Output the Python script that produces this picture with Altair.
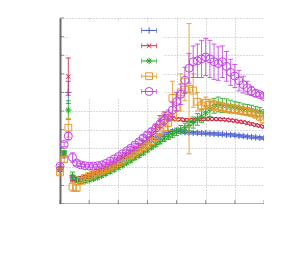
import altair as alt
import pandas as pd

# ---------------- data ----------------
x_vals = list(range(50))
x_ticks = [0, 7, 14, 21, 28, 35, 42, 49]
y_ticks = [0, 1, 2, 3, 4, 5, 6, 7, 8, 9, 10]

series_names = ["A", "B", "C", "D", "E"]

blue = [1.85, 2.6, 6.0, 1.4, 1.3, 1.35, 1.4, 1.5, 1.58, 1.67,
        1.77, 1.87, 1.98, 2.1, 2.22, 2.36, 2.5, 2.65, 2.8, 2.97,
        3.13, 3.3, 3.45, 3.55, 3.65, 3.75, 3.85, 3.9, 3.93, 3.9,
        3.86, 3.84, 3.83, 3.82, 3.81, 3.8, 3.78, 3.77, 3.76, 3.75,
        3.73, 3.72, 3.7, 3.67, 3.65, 3.62, 3.6, 3.58, 3.56, 3.54]
blue_err = [0.1, 0.12, 0.6, 0.12, 0.1, 0.08, 0.07, 0.07, 0.07, 0.07,
            0.07, 0.07, 0.07, 0.07, 0.07, 0.07, 0.07, 0.08, 0.08, 0.08,
            0.08, 0.08, 0.1, 0.1, 0.1, 0.1, 0.1, 0.1, 0.1, 0.08,
            0.08, 0.08, 0.07, 0.07, 0.07, 0.07, 0.07, 0.07, 0.07, 0.07,
            0.07, 0.07, 0.07, 0.07, 0.07, 0.07, 0.07, 0.07, 0.07, 0.07]

red = [1.9, 2.7, 6.85, 1.35, 1.34, 1.4, 1.45, 1.55, 1.65, 1.75,
       1.85, 1.95, 2.08, 2.2, 2.35, 2.5, 2.65, 2.8, 2.97, 3.15,
       3.32, 3.5, 3.75, 4.1, 4.5, 4.75, 4.65, 4.6, 4.55, 4.55,
       4.52, 4.5, 4.52, 4.55, 4.55, 4.56, 4.57, 4.57, 4.56, 4.55,
       4.53, 4.5, 4.47, 4.43, 4.4, 4.35, 4.3, 4.25, 4.2, 4.15]
red_err = [0.1, 0.12, 1.0, 0.15, 0.1, 0.08, 0.07, 0.07, 0.07, 0.07,
           0.07, 0.07, 0.07, 0.07, 0.07, 0.07, 0.08, 0.08, 0.08, 0.08,
           0.1, 0.1, 0.12, 0.2, 0.25, 0.2, 0.15, 0.1, 0.08, 0.08,
           0.08, 0.08, 0.07, 0.07, 0.07, 0.07, 0.07, 0.07, 0.07, 0.07,
           0.07, 0.07, 0.07, 0.07, 0.07, 0.07, 0.07, 0.07, 0.07, 0.07]

green = [1.85, 2.75, 5.05, 1.52, 1.3, 1.2, 1.22, 1.28, 1.35, 1.43,
         1.52, 1.62, 1.73, 1.84, 1.96, 2.08, 2.2, 2.33, 2.47, 2.6,
         2.75, 2.9, 3.05, 3.2, 3.35, 3.5, 3.62, 3.75, 3.88, 4.0,
         4.1, 4.22, 4.38, 4.55, 4.72, 4.9, 5.1, 5.28, 5.35, 5.3,
         5.3, 5.25, 5.2, 5.15, 5.1, 5.08, 5.05, 5.0, 4.95, 4.85]
green_err = [0.1, 0.12, 0.5, 0.2, 0.15, 0.1, 0.08, 0.08, 0.08, 0.08,
             0.08, 0.08, 0.08, 0.08, 0.08, 0.08, 0.08, 0.08, 0.09, 0.09,
             0.1, 0.1, 0.1, 0.12, 0.12, 0.15, 0.15, 0.18, 0.2, 0.22,
             0.25, 0.28, 0.3, 0.32, 0.35, 0.38, 0.4, 0.4, 0.4, 0.38,
             0.35, 0.33, 0.3, 0.3, 0.28, 0.27, 0.26, 0.25, 0.24, 0.22]

orange = [1.7, 2.4, 4.1, 0.93, 0.86, 1.25, 1.4, 1.5, 1.6, 1.7,
          1.78, 1.87, 1.97, 2.08, 2.2, 2.33, 2.47, 2.6, 2.75, 2.9,
          3.05, 3.2, 3.38, 3.6, 3.9, 4.1, 4.35, 5.7, 5.2, 6.0,
          6.15, 6.2, 6.1, 5.5, 5.3, 5.45, 5.35, 5.3, 5.25, 5.2,
          5.15, 5.1, 5.1, 5.05, 5.0, 4.95, 4.9, 4.82, 4.7, 4.55]
orange_err = [0.1, 0.15, 0.5, 0.25, 0.15, 0.1, 0.08, 0.08, 0.08, 0.08,
              0.08, 0.08, 0.08, 0.08, 0.08, 0.08, 0.08, 0.09, 0.09, 0.1,
              0.1, 0.12, 0.15, 0.2, 0.25, 0.3, 0.4, 0.9, 0.7, 1.0,
              0.6, 3.5, 0.9, 0.5, 0.3, 0.3, 0.28, 0.27, 0.26, 0.25,
              0.25, 0.24, 0.23, 0.22, 0.22, 0.21, 0.2, 0.2, 0.2, 0.2]

purple = [2.03, 3.2, 3.65, 2.5, 2.2, 2.1, 2.06, 2.04, 2.04, 2.06,
          2.1, 2.18, 2.3, 2.42, 2.55, 2.7, 2.85, 3.0, 3.17, 3.35,
          3.55, 3.72, 3.9, 4.08, 4.3, 4.5, 4.75, 5.05, 5.5, 5.9,
          6.65, 7.3, 7.65, 7.7, 7.8, 7.9, 7.8, 7.65, 7.55, 7.65,
          7.4, 7.08, 6.88, 6.63, 6.42, 6.25, 6.08, 5.95, 5.88, 5.78]
purple_err = [0.08, 0.12, 0.2, 0.25, 0.12, 0.08, 0.06, 0.06, 0.06, 0.06,
              0.06, 0.06, 0.07, 0.07, 0.08, 0.08, 0.09, 0.1, 0.1, 0.11,
              0.12, 0.13, 0.15, 0.17, 0.2, 0.25, 0.3, 0.4, 0.5, 0.55,
              0.7, 0.8, 0.85, 0.9, 1.0, 1.0, 1.0, 0.95, 0.9, 0.85,
              0.8, 0.7, 0.62, 0.55, 0.45, 0.35, 0.25, 0.18, 0.12, 0.1]

values = [blue, red, green, orange, purple]
errors = [blue_err, red_err, green_err, orange_err, purple_err]

# ---------------- styles ----------------
colors = ["#4a62d4", "#cc2a48", "#2aa82a", "#e39a2c", "#c443e6"]
shapes = [
    "M-1,0L1,0M0,-1L0,1",
    "M-0.8,-0.8L0.8,0.8M-0.8,0.8L0.8,-0.8",
    "M-1,0L1,0M0,-1L0,1M-0.7,-0.7L0.7,0.7M-0.7,0.7L0.7,-0.7",
    "square",
    "circle",
]
sizes = [42, 30, 42, 46, 64]

xscale = alt.Scale(domain=[0, 49], nice=False, zero=False)
yscale = alt.Scale(domain=[0, 10], nice=False, zero=False)
xaxis = alt.Axis(title=None, values=x_ticks, grid=True, gridDash=[1, 2],
                 gridColor="#b4b4b4", gridWidth=1, ticks=False, labels=False,
                 domainColor="#6a6a6a", domainWidth=2)
yaxis = alt.Axis(title=None, values=y_ticks, grid=True, gridDash=[1, 2],
                 gridColor="#b4b4b4", gridWidth=1, ticks=False, labels=False,
                 domainColor="#6a6a6a", domainWidth=2)


def X(f):
    return alt.X(f, type="quantitative", scale=xscale, axis=xaxis)


def Y(f):
    return alt.Y(f, type="quantitative", scale=yscale, axis=yaxis)


layers = []

# key box (blanks the grid behind the key)
key_box = pd.DataFrame({"x0": [2.2], "x1": [24.8], "y0": [5.7], "y1": [9.78]})
layers.append(
    alt.Chart(key_box).mark_rect(color="white").encode(
        x=X("x0"), x2="x1", y=Y("y0"), y2="y1")
)

for k, name in enumerate(series_names):
    vals = values[k]
    errs = errors[k]
    df = pd.DataFrame({
        "x": x_vals,
        "y": vals,
        "lo": [v - e for v, e in zip(vals, errs)],
        "hi": [v + e for v, e in zip(vals, errs)],
    })
    c = colors[k]
    layers.append(
        alt.Chart(df).mark_rule(color=c, strokeWidth=1, opacity=0.85).encode(
            x=X("x"), y=Y("lo"), y2="hi")
    )
    layers.append(
        alt.Chart(df).transform_fold(["lo", "hi"], as_=["end", "v"]).mark_tick(
            orient="horizontal", size=5, thickness=1, color=c, opacity=0.85).encode(
            x=X("x"), y=Y("v:Q"))
    )
    layers.append(
        alt.Chart(df).mark_point(shape=shapes[k], size=sizes[k], color=c,
                                 filled=False, strokeWidth=1, opacity=1).encode(
            x=X("x"), y=Y("y"))
    )

# key samples
key_top = 9.33
key_step = 0.82
key_x0, key_x1, key_xm = 19.6, 23.2, 21.4
for k, name in enumerate(series_names):
    c = colors[k]
    kd = pd.DataFrame({"x0": [key_x0], "x1": [key_x1], "xm": [key_xm],
                       "y": [key_top - k * key_step]})
    layers.append(alt.Chart(kd).mark_rule(color=c, strokeWidth=1).encode(
        x=X("x0"), x2="x1", y=Y("y")))
    layers.append(alt.Chart(kd).transform_fold(["x0", "x1"], as_=["end", "v"]).mark_tick(
        orient="vertical", size=5, thickness=1, color=c).encode(
        x=X("v:Q"), y=Y("y")))
    layers.append(alt.Chart(kd).mark_point(shape=shapes[k], size=sizes[k], color=c,
                                           filled=False, strokeWidth=1, opacity=1).encode(
        x=X("xm"), y=Y("y")))

# inward axis ticks
xt = pd.DataFrame({"x": x_ticks, "y": [0] * len(x_ticks)})
yt = pd.DataFrame({"x": [0] * len(y_ticks), "y": y_ticks})
layers.append(alt.Chart(xt).mark_tick(orient="vertical", size=4, thickness=1,
                                      color="#6a6a6a", yOffset=-2).encode(
    x=X("x"), y=Y("y")))
layers.append(alt.Chart(yt).mark_tick(orient="horizontal", size=4, thickness=1,
                                      color="#6a6a6a", xOffset=2).encode(
    x=X("x"), y=Y("y")))

chart = alt.layer(*layers).properties(
    width=204, height=186,
    padding={"left": 52, "top": 10, "right": 0, "bottom": 0},
    autosize="none",
).configure_view(strokeWidth=0)

chart.save("out.html", embed_options={"renderer": "svg", "actions": False})
